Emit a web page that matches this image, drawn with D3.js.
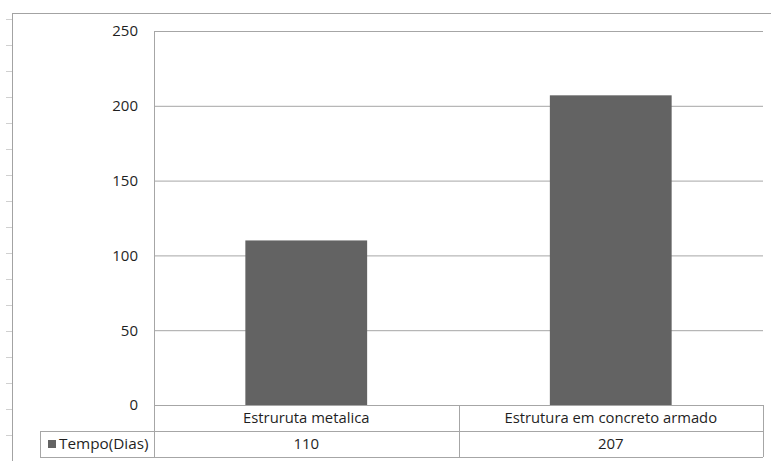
<!DOCTYPE html>
<html>
<head>
<meta charset="utf-8">
<script src="https://cdn.jsdelivr.net/npm/d3@7"></script>
<style>
  html, body { margin: 0; padding: 0; background: #fff; }
  svg { display: block; }
  text { font-family: "Open Sans", "Noto Sans", sans-serif; fill: #1f1f1f; }
</style>
</head>
<body>
<svg id="chart" width="771" height="461"></svg>
<script>
// Construction time per structural system
const categories = ["Estruruta metalica", "Estrutura em concreto armado"];
const seriesName = "Tempo(Dias)";
const tempoDias = [110, 207];
const yTicks = [0, 50, 100, 150, 200, 250];

const W = 771, H = 461;
const plot = { left: 154, right: 763, top: 31, bottom: 405 };
const rowH = 26;
const legendLeft = 40;

const svg = d3.select("#chart");

const x = d3.scaleBand()
  .domain(categories)
  .range([plot.left, plot.right])
  .paddingInner(0.6)
  .paddingOuter(0.3);

// band cells of the data table span the full category width
const cell = d3.scaleBand()
  .domain(categories)
  .range([plot.left, plot.right]);

const y = d3.scaleLinear().domain([0, 250]).range([plot.bottom, plot.top]);

// outer chart frame (top and left edges visible)
svg.append("line").attr("x1", 12).attr("x2", W).attr("y1", 13.5).attr("y2", 13.5)
  .attr("stroke", "#a3a3a3");
svg.append("line").attr("x1", 12.5).attr("x2", 12.5).attr("y1", 13).attr("y2", H)
  .attr("stroke", "#a3a3a3");
// sheet row marks to the left of the frame
svg.append("g").selectAll("line")
  .data(d3.range(19, H, 26))
  .join("line")
  .attr("x1", 6).attr("x2", 12)
  .attr("y1", d => d + 0.5).attr("y2", d => d + 0.5)
  .attr("stroke", "#d0d0d0");

// gridlines + value axis labels
const yAxis = d3.axisLeft(y).tickValues(yTicks).tickSize(-(plot.right - plot.left)).tickPadding(16);
const gy = svg.append("g").attr("transform", `translate(${plot.left},0)`).call(yAxis);
gy.select(".domain").remove();
gy.selectAll(".tick line").attr("stroke", "#a6a6a6");
gy.selectAll(".tick text")
  .attr("font-size", 15)
  .attr("fill", "#1f1f1f")
  .style("font-family", "'Open Sans', sans-serif");

// bars
svg.append("g").selectAll("rect")
  .data(categories.map((c, i) => ({ c, v: tempoDias[i] })))
  .join("rect")
  .attr("x", d => x(d.c))
  .attr("width", x.bandwidth())
  .attr("y", d => y(d.v))
  .attr("height", d => y(0) - y(d.v))
  .attr("fill", "#636363");

// data table
const tg = svg.append("g").attr("stroke", "#a6a6a6").attr("shape-rendering", "crispEdges");
const r1 = plot.bottom, r2 = plot.bottom + rowH, r3 = plot.bottom + 2 * rowH;
tg.append("line").attr("x1", plot.left).attr("x2", plot.right).attr("y1", r1 + 0.5).attr("y2", r1 + 0.5);
tg.append("line").attr("x1", legendLeft).attr("x2", plot.right).attr("y1", r2 + 0.5).attr("y2", r2 + 0.5);
tg.append("line").attr("x1", legendLeft).attr("x2", plot.right).attr("y1", r3 + 0.5).attr("y2", r3 + 0.5);
tg.append("line").attr("x1", legendLeft + 0.5).attr("x2", legendLeft + 0.5).attr("y1", r2).attr("y2", r3);
tg.append("line").attr("x1", plot.left + 0.5).attr("x2", plot.left + 0.5).attr("y1", plot.top).attr("y2", r3);
tg.selectAll(".sep")
  .data(categories.slice(1))
  .join("line")
  .attr("x1", d => cell(d) + 0.5).attr("x2", d => cell(d) + 0.5)
  .attr("y1", r1).attr("y2", r3);
tg.append("line").attr("x1", plot.right + 0.5).attr("x2", plot.right + 0.5).attr("y1", r1).attr("y2", r3);

// category labels
svg.append("g").selectAll("text")
  .data(categories)
  .join("text")
  .attr("x", d => cell(d) + cell.bandwidth() / 2)
  .attr("y", r1 + rowH / 2)
  .attr("dy", "0.35em")
  .attr("text-anchor", "middle")
  .attr("font-size", 14.8)
  .text(d => d);

// value row
svg.append("g").selectAll("text")
  .data(categories.map((c, i) => ({ c, v: tempoDias[i] })))
  .join("text")
  .attr("x", d => cell(d.c) + cell.bandwidth() / 2)
  .attr("y", r2 + rowH / 2)
  .attr("dy", "0.35em")
  .attr("text-anchor", "middle")
  .attr("font-size", 15)
  .text(d => d.v);

// legend key cell
svg.append("rect").attr("x", 48).attr("y", r2 + 9).attr("width", 8).attr("height", 8).attr("fill", "#636363");
svg.append("text")
  .attr("x", 59).attr("y", r2 + rowH / 2).attr("dy", "0.35em")
  .attr("font-size", 15.3)
  .text(seriesName);
</script>
</body>
</html>
